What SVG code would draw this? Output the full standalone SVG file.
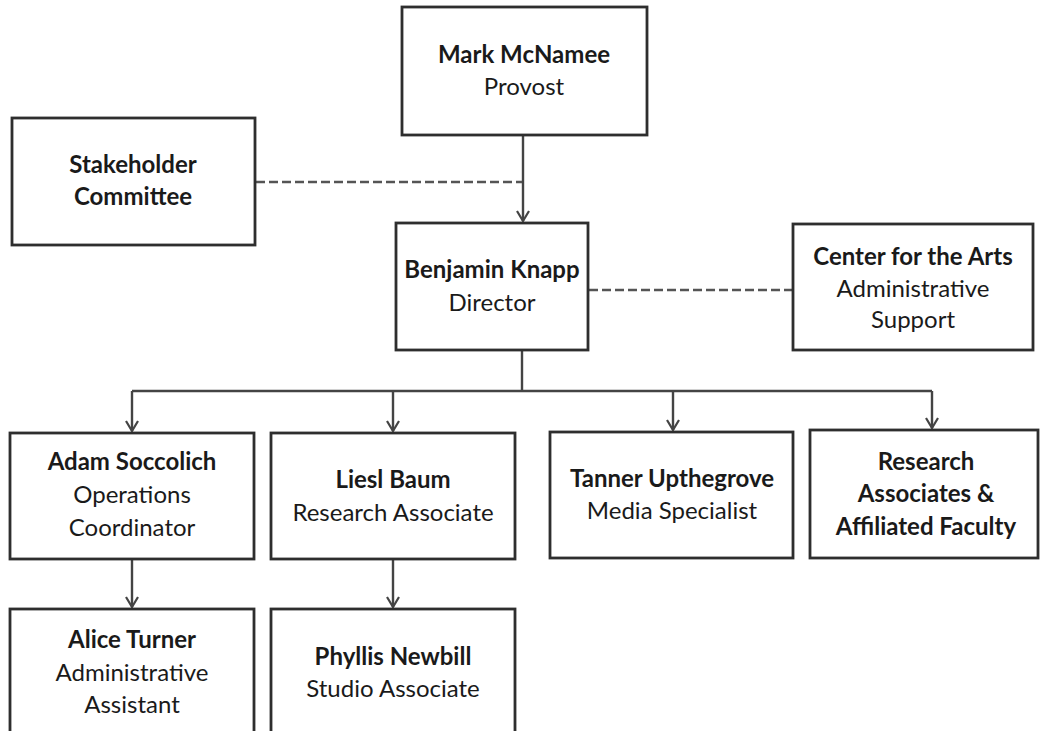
<svg xmlns="http://www.w3.org/2000/svg" width="1040" height="731" viewBox="0 0 1040 731">
  <defs>
    <marker id="arr" viewBox="0 0 12 14" refX="11" refY="7" markerWidth="12" markerHeight="14" markerUnits="userSpaceOnUse" orient="auto">
      <path d="M1,1 L11,7 L1,13" fill="none" stroke="#444" stroke-width="2.2"/>
    </marker>
    <style>
      .box { fill: #fff; stroke: #2e2e2e; stroke-width: 2.8; }
      .ln { fill: none; stroke: #444; stroke-width: 2.4; }
      .dash { fill: none; stroke: #555; stroke-width: 2.6; stroke-dasharray: 9 4; }
      text { font-family: Lato, "Liberation Sans", sans-serif; font-size: 24px; fill: #1a1a1a; text-anchor: middle; }
      .b { font-weight: bold; }
    </style>
  </defs>
  <rect width="1040" height="731" fill="#fff"/>

  <g id="connectors">
    <line class="ln" x1="523" y1="135" x2="523" y2="221" marker-end="url(#arr)"/>
    <line class="dash" x1="256" y1="182" x2="522" y2="182"/>
    <line class="dash" x1="589" y1="290" x2="792" y2="290"/>
    <line class="ln" x1="522" y1="350" x2="522" y2="391"/>
    <line class="ln" x1="132" y1="391" x2="932" y2="391"/>
    <line class="ln" x1="132" y1="391" x2="132" y2="431" marker-end="url(#arr)"/>
    <line class="ln" x1="393" y1="391" x2="393" y2="431" marker-end="url(#arr)"/>
    <line class="ln" x1="673" y1="391" x2="673" y2="430" marker-end="url(#arr)"/>
    <line class="ln" x1="932" y1="391" x2="932" y2="428" marker-end="url(#arr)"/>
    <line class="ln" x1="132" y1="559" x2="132" y2="607" marker-end="url(#arr)"/>
    <line class="ln" x1="393" y1="559" x2="393" y2="607" marker-end="url(#arr)"/>
  </g>

  <g id="provost">
    <rect class="box" x="402" y="7" width="245" height="128"/>
    <text class="b" x="524" y="63">Mark McNamee</text>
    <text x="524" y="95">Provost</text>
  </g>
  <g id="stakeholder">
    <rect class="box" x="12" y="118" width="243" height="127"/>
    <text class="b" x="133" y="173">Stakeholder</text>
    <text class="b" x="133" y="205">Committee</text>
  </g>
  <g id="director">
    <rect class="box" x="396" y="223" width="192" height="127"/>
    <text class="b" x="492" y="278">Benjamin Knapp</text>
    <text x="492" y="311">Director</text>
  </g>
  <g id="cfa">
    <rect class="box" x="793" y="224" width="240" height="126"/>
    <text class="b" x="913" y="265">Center for the Arts</text>
    <text x="913" y="297">Administrative</text>
    <text x="913" y="328">Support</text>
  </g>
  <g id="adam">
    <rect class="box" x="10" y="433" width="244" height="126"/>
    <text class="b" x="132" y="470">Adam Soccolich</text>
    <text x="132" y="503">Operations</text>
    <text x="132" y="536">Coordinator</text>
  </g>
  <g id="liesl">
    <rect class="box" x="271" y="433" width="244" height="126"/>
    <text class="b" x="393" y="488">Liesl Baum</text>
    <text x="393" y="521">Research Associate</text>
  </g>
  <g id="tanner">
    <rect class="box" x="550" y="432" width="243" height="126"/>
    <text class="b" x="672" y="487">Tanner Upthegrove</text>
    <text x="672" y="519">Media Specialist</text>
  </g>
  <g id="research">
    <rect class="box" x="810" y="430" width="228" height="128"/>
    <text class="b" x="926" y="470">Research</text>
    <text class="b" x="926" y="502">Associates &amp;</text>
    <text class="b" x="926" y="535">Affiliated Faculty</text>
  </g>
  <g id="alice">
    <rect class="box" x="10" y="609" width="244" height="130"/>
    <text class="b" x="132" y="648">Alice Turner</text>
    <text x="132" y="681">Administrative</text>
    <text x="132" y="713">Assistant</text>
  </g>
  <g id="phyllis">
    <rect class="box" x="271" y="609" width="244" height="130"/>
    <text class="b" x="393" y="665">Phyllis Newbill</text>
    <text x="393" y="697">Studio Associate</text>
  </g>
</svg>
